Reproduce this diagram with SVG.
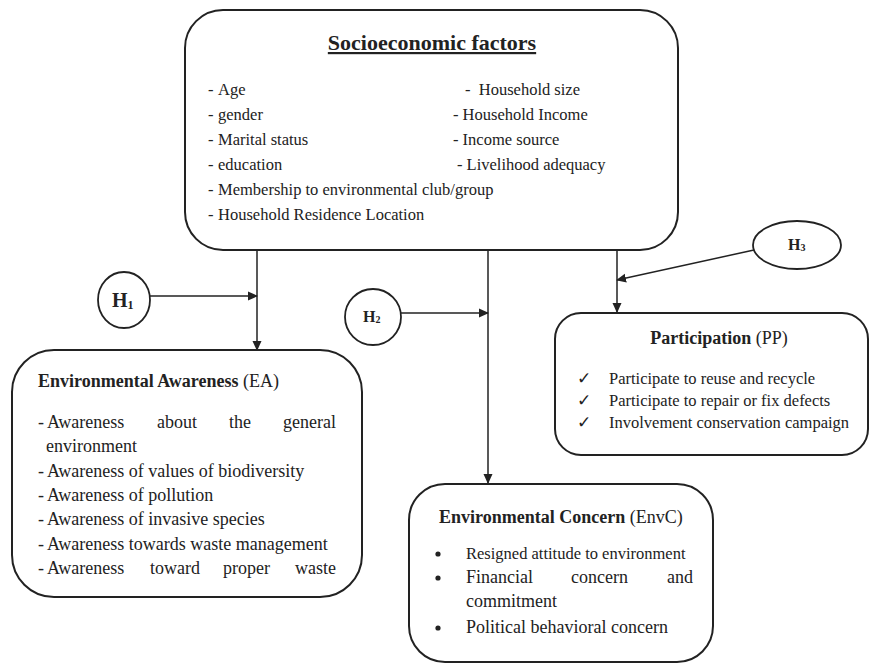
<svg xmlns="http://www.w3.org/2000/svg" width="869" height="663" viewBox="0 0 869 663">
<defs>
<marker id="ah" markerWidth="10" markerHeight="10" refX="9" refY="5" orient="auto" markerUnits="userSpaceOnUse">
<path d="M0,0.5 L10,5 L0,9.5 Z" fill="#222"/>
</marker>
<style>
.box{fill:#fff;stroke:#222;stroke-width:2}
.ell{fill:#fff;stroke:#222;stroke-width:1.8}
.ln{stroke:#222;stroke-width:1.5;fill:none}
text{font-family:"Liberation Serif","Times New Roman",serif;fill:#222}
.t{font-size:16.5px}
.l{font-size:18px}
.b{font-weight:bold}
</style>
</defs>
<rect width="869" height="663" fill="#fff"/>
<g id="connectors">
<line class="ln" x1="257" y1="250" x2="257" y2="350" marker-end="url(#ah)"/>
<line class="ln" x1="150" y1="296" x2="257" y2="296" marker-end="url(#ah)"/>
<line class="ln" x1="488" y1="250" x2="488" y2="483" marker-end="url(#ah)"/>
<line class="ln" x1="401" y1="313" x2="488" y2="313" marker-end="url(#ah)"/>
<line class="ln" x1="617" y1="250" x2="617" y2="312" marker-end="url(#ah)"/>
<line class="ln" x1="754" y1="250" x2="617" y2="280" marker-end="url(#ah)"/>
</g>
<g id="socio">
<rect class="box" x="185" y="10" width="493" height="240" rx="38" ry="38"/>
<text x="432" y="50" font-size="22" class="b" text-anchor="middle" text-decoration="underline">Socioeconomic factors</text>
<text class="t" x="208" y="95">-</text><text class="t" x="218" y="95">Age</text>
<text class="t" x="208" y="120">-</text><text class="t" x="218" y="120">gender</text>
<text class="t" x="208" y="145">-</text><text class="t" x="218" y="145">Marital status</text>
<text class="t" x="208" y="170">-</text><text class="t" x="218" y="170">education</text>
<text class="t" x="208" y="195">-</text><text class="t" x="218" y="195">Membership to environmental club/group</text>
<text class="t" x="208" y="220">-</text><text class="t" x="218" y="220">Household Residence Location</text>
<text class="t" x="465" y="95" xml:space="preserve">-  Household size</text>
<text class="t" x="453" y="120">- Household Income</text>
<text class="t" x="453" y="145">- Income source</text>
<text class="t" x="457" y="170">- Livelihood adequacy</text>
</g>
<g id="h1">
<ellipse class="ell" cx="124" cy="300" rx="26" ry="28"/>
<text x="112" y="307" font-size="20" class="b">H<tspan font-size="12" dy="2">1</tspan></text>
</g>
<g id="h2">
<ellipse class="ell" cx="373" cy="317" rx="28" ry="28"/>
<text x="363" y="322" font-size="16" class="b">H<tspan font-size="10" dy="1">2</tspan></text>
</g>
<g id="h3">
<ellipse class="ell" cx="797" cy="245" rx="44" ry="24"/>
<text x="788" y="250" font-size="16" class="b">H<tspan font-size="10" dy="1">3</tspan></text>
</g>
<g id="ea">
<rect class="box" x="12" y="350" width="350" height="247" rx="42" ry="42"/>
<text class="l" x="38" y="387"><tspan class="b">Environmental Awareness</tspan> (EA)</text>
<text class="l" x="38" y="428">-</text>
<text class="l" x="47" y="428">Awareness</text>
<text class="l" x="157" y="428">about</text>
<text class="l" x="229" y="428">the</text>
<text class="l" x="283" y="428">general</text>
<text class="l" x="46" y="452">environment</text>
<text class="l" x="38" y="477">-</text><text class="l" x="47" y="477">Awareness of values of biodiversity</text>
<text class="l" x="38" y="501">-</text><text class="l" x="47" y="501">Awareness of pollution</text>
<text class="l" x="38" y="525">-</text><text class="l" x="47" y="525">Awareness of invasive species</text>
<text class="l" x="38" y="550">-</text><text class="l" x="47" y="550">Awareness towards waste management</text>
<text class="l" x="38" y="574">-</text>
<text class="l" x="47" y="574">Awareness</text>
<text class="l" x="150" y="574">toward</text>
<text class="l" x="223" y="574">proper</text>
<text class="l" x="295" y="574">waste</text>
</g>
<g id="pp">
<rect class="box" x="555" y="313" width="313" height="142" rx="26" ry="26"/>
<text class="l" x="719" y="344" text-anchor="middle"><tspan class="b">Participation</tspan> (PP)</text>
<text class="t" x="577" y="384">✓</text>
<text class="t" x="609" y="384">Participate to reuse and recycle</text>
<text class="t" x="577" y="406">✓</text>
<text class="t" x="609" y="406">Participate to repair or fix defects</text>
<text class="t" x="577" y="428">✓</text>
<text class="t" x="609" y="428">Involvement conservation campaign</text>
</g>
<g id="envc">
<rect class="box" x="409" y="484" width="304" height="178" rx="36" ry="36"/>
<text class="l" x="439" y="523"><tspan class="b">Environmental Concern</tspan> (EnvC)</text>
<circle cx="438" cy="554" r="2.6" fill="#222"/>
<text class="t" x="466" y="559">Resigned attitude to environment</text>
<circle cx="438" cy="578" r="2.6" fill="#222"/>
<text class="l" x="466" y="583">Financial</text>
<text class="l" x="571" y="583">concern</text>
<text class="l" x="667" y="583">and</text>
<text class="l" x="466" y="607">commitment</text>
<circle cx="438" cy="628" r="2.6" fill="#222"/>
<text class="l" x="466" y="633">Political behavioral concern</text>
</g>
</svg>
